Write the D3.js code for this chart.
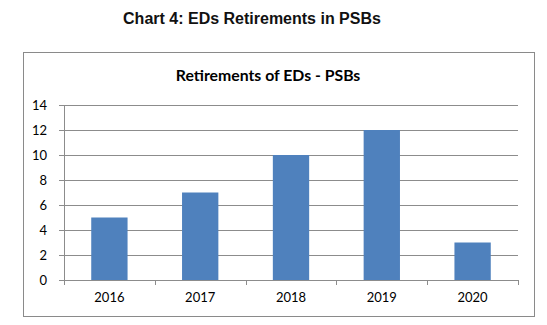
<!DOCTYPE html>
<html><head><meta charset="utf-8">
<script src="https://cdn.jsdelivr.net/npm/d3@7"></script>
<style>body{margin:0;background:#fff}</style>
</head><body>
<svg id="c" width="547" height="325"></svg>
<script>
const categories = ["2016","2017","2018","2019","2020"];
const values = [5, 7, 10, 12, 3];
const yTicks = [0,2,4,6,8,10,12,14];

const svg = d3.select("#c");
svg.append("text").attr("x",252).attr("y",24).attr("text-anchor","middle")
  .attr("font-family","Liberation Sans, Arial").attr("font-weight","bold").attr("font-size",16)
  .attr("fill","#111").text("Chart 4: EDs Retirements in PSBs");

svg.append("rect").attr("x",23.5).attr("y",52.5).attr("width",511).attr("height",264)
  .attr("fill","#fff").attr("stroke","#8a8a8a").attr("stroke-width",1);

svg.append("text").attr("x",268).attr("y",81).attr("text-anchor","middle")
  .attr("font-family","Lato, Open Sans, sans-serif").attr("font-weight","bold").attr("font-size",15.8)
  .attr("fill","#000").text("Retirements of EDs - PSBs");

const L=64, R=518, T=105, B=280;
const x = d3.scaleBand().domain(categories).range([L,R]).padding(0);
const y = d3.scaleLinear().domain([0,14]).range([B,T]);

const g = svg.append("g");
g.selectAll("line.grid").data(yTicks).join("line").attr("class","grid")
  .attr("x1",L-5).attr("x2",R).attr("y1",d=>Math.round(y(d))+0.5).attr("y2",d=>Math.round(y(d))+0.5)
  .attr("stroke","#8c8c8c").attr("stroke-width",1);

g.selectAll("rect.bar").data(values).join("rect").attr("class","bar")
  .attr("x",(d,i)=>x(categories[i])+x.bandwidth()*0.3)
  .attr("width",x.bandwidth()*0.4)
  .attr("y",d=>y(d)).attr("height",d=>B-y(d))
  .attr("fill","#4F81BD");

g.append("line").attr("x1",L+0.5).attr("x2",L+0.5).attr("y1",T).attr("y2",B+5).attr("stroke","#8c8c8c");
const bounds = categories.map(c=>x(c)).concat([R]);
g.selectAll("line.xt").data(bounds.slice(1)).join("line").attr("class","xt")
  .attr("x1",d=>Math.round(d)+0.5).attr("x2",d=>Math.round(d)+0.5).attr("y1",B).attr("y2",B+5).attr("stroke","#8c8c8c");

g.selectAll("text.yl").data(yTicks).join("text").attr("class","yl")
  .attr("x",L-17).attr("y",d=>y(d)+4.5).attr("text-anchor","end")
  .attr("font-family","Lato, Open Sans, sans-serif").attr("font-size",13).attr("fill","#000").text(d=>d);

g.selectAll("text.xl").data(categories).join("text").attr("class","xl")
  .attr("x",d=>x(d)+x.bandwidth()/2).attr("y",302).attr("text-anchor","middle")
  .attr("font-family","Lato, Open Sans, sans-serif").attr("font-size",13).attr("fill","#000").text(d=>d);
</script>
</body></html>
